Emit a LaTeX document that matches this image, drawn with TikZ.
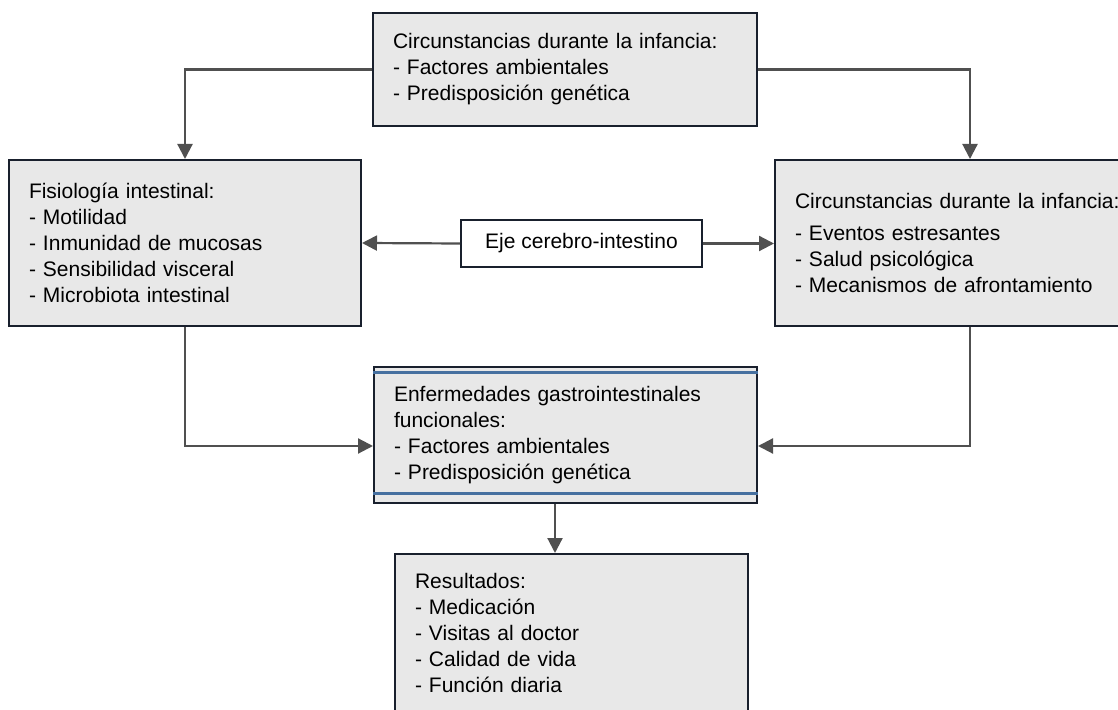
\documentclass[tikz,border=0pt]{standalone}
\usepackage{fontspec}
\setmainfont{Liberation Sans}
\usetikzlibrary{arrows.meta}
\definecolor{boxfill}{RGB}{232,232,232}
\definecolor{boxline}{RGB}{25,32,45}
\definecolor{arrline}{RGB}{80,80,80}
\definecolor{bandblue}{RGB}{70,112,160}
\begin{document}
\begin{tikzpicture}[x=0.5pt,y=-0.5pt,
  box/.style={draw=boxline,line width=1pt,fill=boxfill,align=left,
    inner xsep=10pt,font=\fontsize{10.5}{13}\selectfont},
  eje/.style={draw=boxline,line width=0.8pt,fill=white,
    minimum width=120.5pt,minimum height=23.5pt,font=\fontsize{10.5}{13}\selectfont},
  arr/.style={draw=arrline,line width=1.1pt,-{Triangle[length=7.5pt,width=7.5pt]}},
  band/.style={draw=bandblue,line width=1.5pt}]
  \useasboundingbox (0,0) rectangle (1118,710);
  \clip (0,0) rectangle (1118,710);
  % cajas
  \node[box,text width=172pt,minimum height=56.5pt] (infa) at (565,69.5)
    {Circunstancias durante la infancia:\\- Factores ambientales\\- Predisposición genética};
  \node[box,text width=156pt,minimum height=83pt] (fisio) at (185,243)
    {Fisiología intestinal:\\- Motilidad\\- Inmunidad de mucosas\\- Sensibilidad visceral\\- Microbiota intestinal};
  \node[box,text width=175pt,minimum height=83pt] (psico) at (970,243)
    {Circunstancias durante la infancia:\\[3pt]- Eventos estresantes\\- Salud psicológica\\- Mecanismos de afrontamiento};
  \node[eje] (eje) at (581.5,243.5) {Eje cerebro-intestino};
  \node[box,text width=171.5pt,minimum height=68pt] (egf) at (565.5,435)
    {Enfermedades gastrointestinales\\funcionales:\\- Factores ambientales\\- Predisposición genética};
  \node[box,text width=156.5pt,minimum height=79pt] (res) at (571.5,633)
    {Resultados:\\- Medicación\\- Visitas al doctor\\- Calidad de vida\\- Función diaria};
  % bandas azules
  \draw[band] ([yshift=-3.5pt]egf.north west) -- ([yshift=-3.5pt]egf.north east);
  \draw[band] ([yshift=5pt]egf.south west) -- ([yshift=5pt]egf.south east);
  % flechas
  \draw[arr] (infa.west) -| (fisio.north);
  \draw[arr] (infa.east) -| (psico.north);
  \draw[arr] (eje.west) -- (fisio.east);
  \draw[arr] (eje.east) -- (psico.west |- eje.east);
  \draw[arr] (fisio.south) |- ([yshift=-5.5pt]egf.west);
  \draw[arr] (psico.south) |- ([yshift=-5.5pt]egf.east);
  \draw[arr] ([xshift=-5.25pt]egf.south) -- ([xshift=-5.25pt]egf.south |- res.north);
\end{tikzpicture}
\end{document}
